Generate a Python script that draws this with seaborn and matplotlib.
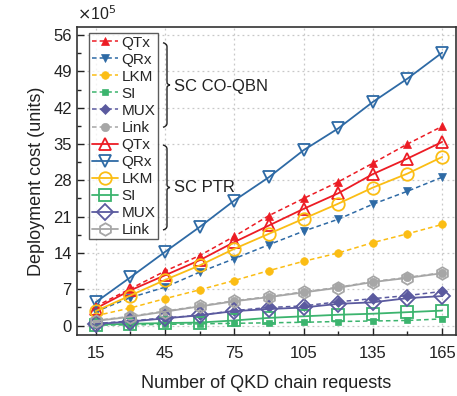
import matplotlib
matplotlib.use("Agg")
import matplotlib.pyplot as plt
from matplotlib.ticker import MultipleLocator, FixedLocator
from matplotlib.path import Path
from matplotlib.patches import PathPatch
import seaborn as sns

sns.set_theme(style="ticks")
plt.rcParams['font.family'] = ['Liberation Sans', 'DejaVu Sans']

requests = [15, 30, 45, 60, 75, 90, 105, 120, 135, 150, 165]

# SC CO-QBN (dashed, filled markers), units of 1e5
qbn_qtx = [3.7, 7.1, 10.5, 13.5, 17.2, 21.2, 24.5, 27.7, 31.3, 35.0, 38.4]
qbn_qrx = [2.7, 5.4, 7.4, 10.3, 12.9, 15.6, 18.2, 20.5, 23.4, 25.9, 28.6]
qbn_lkm = [1.9, 3.4, 5.2, 6.9, 8.7, 10.6, 12.4, 14.0, 16.0, 17.7, 19.5]
qbn_si = [0.1, 0.15, 0.25, 0.35, 0.45, 0.55, 0.65, 0.8, 0.9, 1.0, 1.3]
qbn_mux = [0.4, 0.9, 1.5, 2.0, 2.9, 3.5, 3.8, 4.6, 5.2, 5.8, 6.6]
qbn_link = [1.0, 1.8, 2.8, 3.8, 4.8, 5.6, 6.5, 7.4, 8.5, 9.3, 10.2]

# SC PTR (solid, open markers)
ptr_qtx = [3.3, 6.8, 9.7, 12.6, 16.1, 19.3, 22.5, 25.5, 29.2, 32.2, 35.4]
ptr_qrx = [4.5, 9.3, 14.2, 19.0, 24.1, 28.6, 33.8, 38.0, 43.1, 47.6, 52.6]
ptr_lkm = [2.8, 5.8, 8.8, 11.6, 14.8, 17.7, 20.6, 23.5, 26.6, 29.3, 32.5]
ptr_si = [0.2, 0.35, 0.5, 0.6, 1.0, 1.5, 1.8, 2.1, 2.3, 2.6, 2.9]
ptr_mux = [0.3, 0.8, 1.4, 2.0, 2.8, 3.2, 3.5, 4.2, 4.5, 5.3, 5.7]
ptr_link = [0.9, 1.7, 2.7, 3.7, 4.7, 5.5, 6.4, 7.3, 8.4, 9.2, 10.1]

labels = ["QTx", "QRx", "LKM", "SI", "MUX", "Link"]
colors = ["#ec1c24", "#2e6aa5", "#fbbd14", "#3cb46e", "#5b5a9f", "#a6a6a6"]
qbn_markers = ["^", "v", "o", "s", "D", "o"]
ptr_markers = ["^", "v", "o", "s", "D", "h"]
qbn_sizes = [5.5, 5.5, 5.5, 5, 5, 6]
ptr_sizes = [9, 9, 9, 8, 8, 9]

qbn = [qbn_qtx, qbn_qrx, qbn_lkm, qbn_si, qbn_mux, qbn_link]
ptr = [ptr_qtx, ptr_qrx, ptr_lkm, ptr_si, ptr_mux, ptr_link]

W, H = 457, 396
fig = plt.figure(figsize=(W / 100, H / 100), dpi=100)
ax = fig.add_axes([76.7 / W, 1 - 335 / H, (456 - 76.7) / W, (335 - 26.7) / H])

for vals, lab, c, m, ms in zip(qbn, labels, colors, qbn_markers, qbn_sizes):
    sns.lineplot(x=requests, y=vals, ax=ax, color=c, marker=m, markersize=ms,
                 markeredgewidth=0.5, linestyle=(0, (3, 2)), linewidth=1.1,
                 markeredgecolor=c, label=lab, zorder=3)
for vals, lab, c, m, ms in zip(ptr, labels, colors, ptr_markers, ptr_sizes):
    sns.lineplot(x=requests, y=vals, ax=ax, color=c, marker=m, markersize=ms,
                 markerfacecolor="none", markeredgecolor=c, markeredgewidth=1.3,
                 linestyle="-", linewidth=1.3, label=lab, zorder=3)

ax.set_xlim(6.8, 171)
ax.set_ylim(-1.8, 57.6)
ax.xaxis.set_major_locator(FixedLocator([15, 45, 75, 105, 135, 165]))
ax.xaxis.set_minor_locator(FixedLocator([30, 60, 90, 120, 150]))
ax.yaxis.set_major_locator(MultipleLocator(7))
ax.yaxis.set_minor_locator(MultipleLocator(3.5))
ax.tick_params(which="both", direction="in", top=False, right=False, labelsize=12,
               colors="#222222", width=1.0)
ax.tick_params(which="major", length=5)
ax.tick_params(which="minor", length=3)
ax.tick_params(axis="x", pad=8)
ax.grid(True, which="major", linestyle=(0, (1.5, 2.5)), color="#c8c8c8", linewidth=0.9)
for s in ax.spines.values():
    s.set_linewidth(1.2)
    s.set_color("#333333")

ax.set_xlabel("Number of QKD chain requests", fontsize=13, color="#222222", labelpad=10)
ax.set_ylabel("Deployment cost (units)", fontsize=13, color="#222222", labelpad=6)
fig.text(77 / W, 1 - 14 / H, r"$\times$10$^5$", fontsize=11.5, color="#222222",
         ha="left", va="center")

h, l = ax.get_legend_handles_labels()
leg = ax.legend(h, l, loc="upper left",
                bbox_to_anchor=((89.3 - 76.7) / (456 - 76.7), 1 - (33.3 - 26.7) / (335 - 26.7)),
                fontsize=11, frameon=True, fancybox=False, edgecolor="#333333",
                handlelength=1.75, handletextpad=0.2, labelspacing=0.2,
                borderpad=0.15, borderaxespad=0)
leg.get_frame().set_linewidth(1.0)

def brace(x0, top, bottom):
    mid = (top + bottom) / 2
    def P(px, py):
        return (px / W, 1 - py / H)
    verts = [P(x0, top), P(x0 + 4, top + 1), P(x0 + 4, top + 4),
             P(x0 + 4, mid - 3), P(x0 + 4, mid), P(x0 + 7, mid),
             P(x0 + 4, mid), P(x0 + 4, mid + 3),
             P(x0 + 4, bottom - 4), P(x0 + 4, bottom - 1), P(x0, bottom)]
    codes = [Path.MOVETO, Path.CURVE3, Path.CURVE3, Path.LINETO, Path.CURVE3, Path.CURVE3,
             Path.CURVE3, Path.CURVE3, Path.LINETO, Path.CURVE3, Path.CURVE3]
    fig.add_artist(PathPatch(Path(verts, codes), facecolor="none", edgecolor="#222222",
                             linewidth=1.0, transform=fig.transFigure))

brace(163, 42.7, 127.3)
brace(163, 145, 230)
fig.text(174 / W, 1 - 87 / H, "SC CO-QBN", fontsize=12, color="#222222", va="center")
fig.text(174 / W, 1 - 188 / H, "SC PTR", fontsize=12, color="#222222", va="center")

fig.savefig("out.png", dpi=100)
